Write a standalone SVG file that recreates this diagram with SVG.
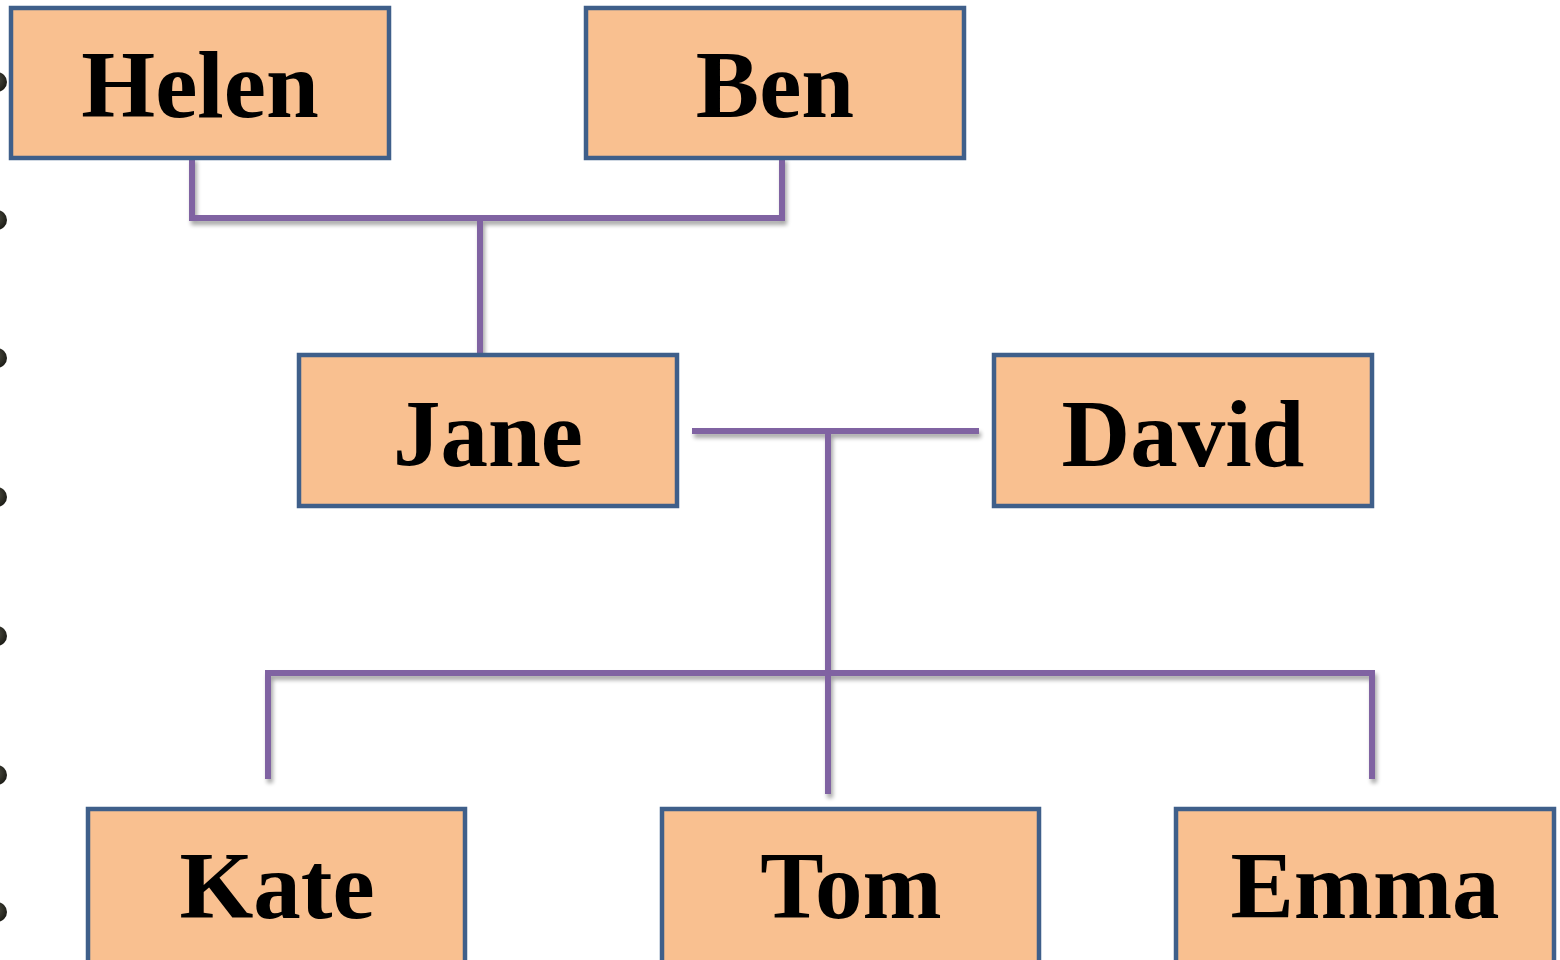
<svg xmlns="http://www.w3.org/2000/svg" width="1560" height="960" viewBox="0 0 1560 960">
<defs>
<filter id="sh" x="-10%" y="-10%" width="130%" height="130%">
<feGaussianBlur in="SourceAlpha" stdDeviation="2"/>
<feOffset dx="2" dy="4" result="b"/>
<feComponentTransfer><feFuncA type="linear" slope="0.35"/></feComponentTransfer>
<feMerge><feMergeNode/><feMergeNode in="SourceGraphic"/></feMerge>
</filter>
<radialGradient id="dotg" cx="0.4" cy="0.4" r="0.6">
<stop offset="0" stop-color="#555548"/>
<stop offset="1" stop-color="#1e1e18"/>
</radialGradient>
</defs>
<style>
.box{fill:#F9C090;stroke:#3F5F8A;stroke-width:4.5}
.lbl{font-family:"Liberation Serif","Times New Roman",serif;font-weight:bold;font-size:95px;fill:#000;text-anchor:middle}
.con{stroke:#8064A2;stroke-width:6;fill:none;stroke-linecap:square}
.dot{fill:url(#dotg)}
</style>
<rect width="1560" height="960" fill="#fff"/>
<g id="bullets">
<circle class="dot" cx="-3" cy="82" r="10"/>
<circle class="dot" cx="-3" cy="220" r="10"/>
<circle class="dot" cx="-3" cy="358" r="10"/>
<circle class="dot" cx="-3" cy="497" r="10"/>
<circle class="dot" cx="-3" cy="636" r="10"/>
<circle class="dot" cx="-3" cy="775" r="10"/>
<circle class="dot" cx="-3" cy="912" r="10"/>
</g>
<g id="connectors" filter="url(#sh)">
<path class="con" d="M192,160 V218 H782 V160"/>
<path class="con" d="M480,218 V352"/>
<path class="con" d="M695,431 H976"/>
<path class="con" d="M828,431 V791"/>
<path class="con" d="M268,776 V673 H1372 V776"/>
</g>
<g id="helen"><rect class="box" x="11" y="8" width="378" height="150"/><text class="lbl" x="200" y="117">Helen</text></g>
<g id="ben"><rect class="box" x="586" y="8" width="378" height="150"/><text class="lbl" x="775" y="117">Ben</text></g>
<g id="jane"><rect class="box" x="299" y="355" width="378" height="151"/><text class="lbl" x="488" y="466">Jane</text></g>
<g id="david"><rect class="box" x="994" y="355" width="378" height="151"/><text class="lbl" x="1183" y="466">David</text></g>
<g id="kate"><rect class="box" x="88" y="809" width="377" height="160"/><text class="lbl" x="277" y="918">Kate</text></g>
<g id="tom"><rect class="box" x="662" y="809" width="377" height="160"/><text class="lbl" x="851" y="918">Tom</text></g>
<g id="emma"><rect class="box" x="1176" y="809" width="378" height="160"/><text class="lbl" x="1365" y="918">Emma</text></g>
</svg>
